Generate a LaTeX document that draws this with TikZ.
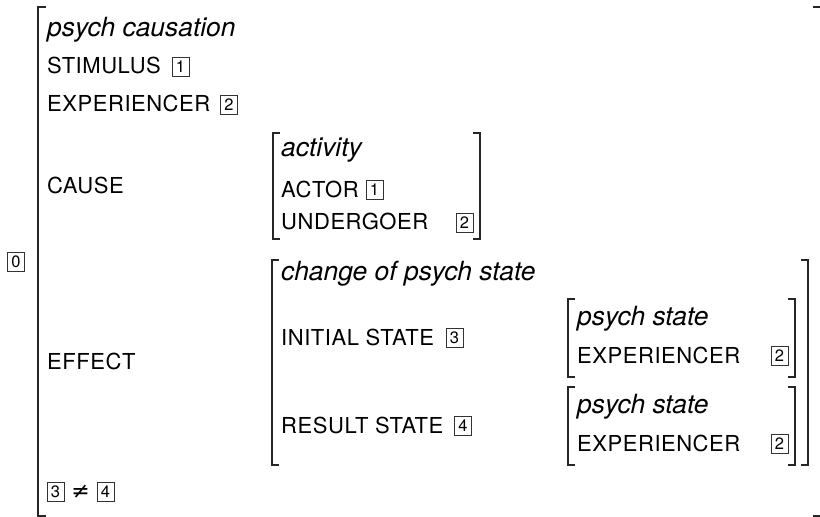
\documentclass[tikz,border=0pt]{standalone}
\usepackage{fontspec}
\setmainfont{TeX Gyre Heros}
\newfontfamily\symfont{DejaVu Sans}
\newcommand{\avmbrackets}[5]{% left x, right x, top, bottom, tick
  \draw[brk] (#1+#5,#3) -- (#1,#3) -- (#1,#4) -- (#1+#5,#4);
  \draw[brk] (#2-#5,#3) -- (#2,#3) -- (#2,#4) -- (#2-#5,#4);}
\begin{document}
\begin{tikzpicture}[x=1pt,y=-1pt,
  brk/.style={line width=1.6pt, draw=black!85},
  lbl/.style={anchor=base west, inner sep=0pt, font=\fontsize{22}{26}\selectfont\addfontfeature{LetterSpace=2.5}},
  typ/.style={anchor=base west, inner sep=0pt, font=\fontsize{26.4}{30}\selectfont\itshape},
  numbox/.style={draw=black!80, line width=0.8pt, minimum width=17pt, minimum height=19pt, inner sep=0pt, font=\fontsize{16.5}{16.5}\selectfont}
]
\useasboundingbox (0,0) rectangle (820,517);

% outer AVM (right side cut off at the picture's edge)
\draw[brk] (46,7) -- (38,7) -- (38,516) -- (46,516);
\draw[brk] (813,7) -- (820.4,7);
\draw[brk] (813,516) -- (820.4,516);
\draw[line width=1.6pt, draw=black!25] (820.4,7) -- (820.4,516);
\node[numbox] (b0) at (16,262) {0};
\node[typ] (t0) at (47,36) {psych causation};
\node[lbl] (stim) at (47,73) {STIMULUS};
\node[numbox] (stimb) at (180.5,66.5) {1};
\node[lbl] (exp0) at (47,111) {EXPERIENCER};
\node[numbox] (exp0b) at (229,104.5) {2};
\node[lbl] (cause) at (47,193) {CAUSE};
\node[lbl] (effect) at (47,369) {EFFECT};
\node[numbox] (c3) at (55.5,492) {3};
\node[inner sep=0pt, font=\fontsize{22}{22}\selectfont\symfont] (neq) at (80.5,492) {≠};
\node[numbox] (c4) at (105.5,492) {4};

% activity AVM
\avmbrackets{273}{480}{133}{239}{7}
\node[typ] (act) at (281,156) {activity};
\node[lbl] (actor) at (281,197) {ACTOR};
\node[numbox] (actorb) at (374.5,189.5) {1};
\node[lbl] (und) at (281,229) {UNDERGOER};
\node[numbox] (undb) at (464.5,222.5) {2};

% change of psych state AVM
\avmbrackets{272}{808}{260}{465}{7}
\node[typ] (chg) at (281,280) {change of psych state};
\node[lbl] (init) at (281,345) {INITIAL STATE};
\node[numbox] (initb) at (454.5,338) {3};
\node[lbl] (res) at (281,433) {RESULT STATE};
\node[numbox] (resb) at (463,426) {4};

% psych state AVMs
\avmbrackets{568}{795}{299}{377}{7}
\node[typ] (ps1) at (577,325) {psych state};
\node[lbl] (exp1) at (577,363) {EXPERIENCER};
\node[numbox] (exp1b) at (779.5,356) {2};

\avmbrackets{568}{795}{387}{465}{7}
\node[typ] (ps2) at (577,413) {psych state};
\node[lbl] (exp2) at (577,451) {EXPERIENCER};
\node[numbox] (exp2b) at (779.5,444) {2};
\end{tikzpicture}
\end{document}
